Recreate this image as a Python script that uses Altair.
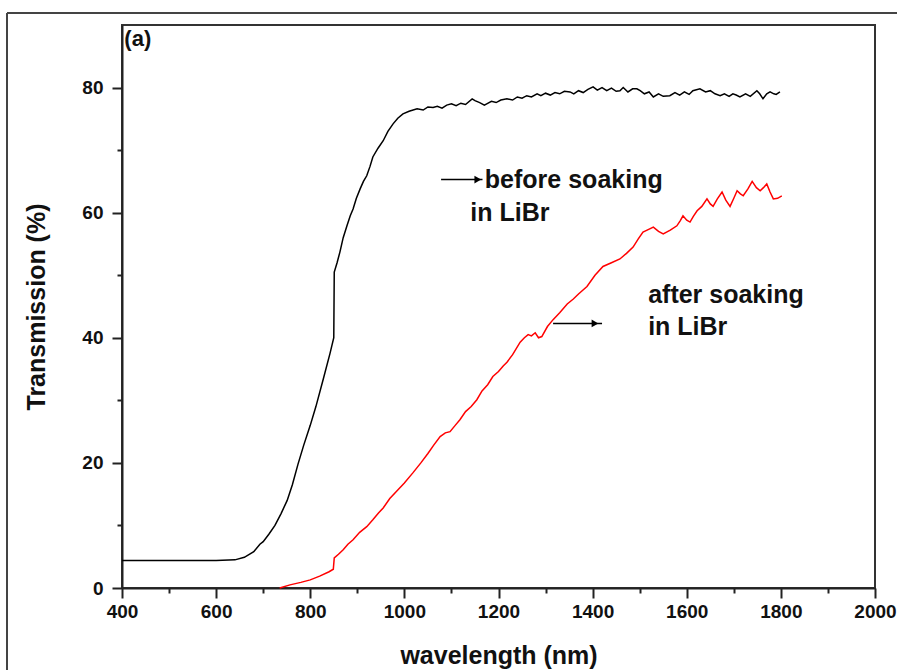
import altair as alt
import pandas as pd

# ---------------- data ----------------
before_x = [400, 500, 600, 640, 660, 680, 693, 700, 712, 725, 738, 751, 762, 774, 786, 800, 812, 828, 842, 850,
            851, 857, 863, 870, 878, 885, 891, 898, 906, 913, 920, 927, 933, 944, 955, 965, 976, 986, 997, 1010,
            1027, 1040, 1050, 1061, 1070, 1080, 1090, 1100, 1110, 1120, 1130, 1144, 1150, 1160, 1170, 1175, 1185,
            1195, 1205, 1218, 1230, 1240, 1250, 1260, 1270, 1282, 1290, 1300, 1310, 1320, 1330, 1340, 1352, 1360,
            1370, 1380, 1390, 1401, 1410, 1420, 1430, 1440, 1450, 1458, 1465, 1475, 1485, 1494, 1501, 1510, 1520,
            1529, 1540, 1550, 1564, 1575, 1585, 1595, 1605, 1613, 1628, 1640, 1650, 1660, 1671, 1680, 1690, 1698,
            1705, 1713, 1725, 1735, 1749, 1755, 1762, 1770, 1777, 1785, 1790, 1798]
before_y = [4.4, 4.4, 4.4, 4.5, 4.9, 5.8, 7.0, 7.4, 8.6, 10.0, 11.9, 14.0, 16.5, 19.8, 22.8, 26.0, 29.0, 33.5, 37.5, 40.0,
            50.5, 52.0, 53.7, 56.0, 57.9, 59.5, 60.6, 62.3, 63.8, 65.0, 65.9, 67.4, 68.9, 70.3, 71.5, 73.0, 74.2, 75.1, 75.8, 76.2,
            76.6, 76.4, 76.9, 76.8, 77.0, 76.7, 77.2, 77.4, 77.1, 77.5, 77.3, 78.2, 77.9, 77.6, 77.2, 77.4, 77.8,
            77.6, 78.0, 78.2, 78.0, 78.5, 78.3, 78.7, 78.5, 79.0, 78.7, 79.1, 78.8, 79.2, 79.0, 79.4, 79.3, 79.0,
            79.5, 79.2, 79.7, 80.1, 79.6, 80.0, 79.5, 79.9, 79.4, 79.5, 80.0, 79.3, 79.8, 79.8, 79.5, 79.0, 79.3,
            78.5, 79.0, 78.6, 78.7, 79.2, 78.8, 79.3, 78.9, 79.5, 79.8, 79.3, 79.5, 79.0, 78.7, 79.0, 78.6, 79.0,
            78.8, 78.5, 79.0, 78.6, 79.5, 79.0, 78.2, 79.0, 79.3, 79.0, 78.9, 79.3]

after_x = [735, 757, 780, 800, 820, 840, 849, 851, 860, 870, 880, 891, 905, 920, 933, 945, 955, 969, 985, 1000,
           1018, 1035, 1050, 1062, 1076, 1087, 1097, 1108, 1118, 1130, 1142, 1154, 1165, 1177, 1188, 1200, 1210,
           1218, 1230, 1246, 1255, 1263, 1270, 1278, 1285, 1292, 1304, 1316, 1330, 1346, 1359, 1370, 1388, 1405,
           1422, 1440, 1458, 1472, 1486, 1497, 1507, 1518, 1529, 1540, 1550, 1565, 1579, 1586, 1592, 1600, 1607,
           1614, 1622, 1632, 1643, 1650, 1656, 1665, 1675, 1683, 1692, 1700, 1707, 1714, 1720, 1730, 1739, 1748,
           1756, 1763, 1770, 1777, 1784, 1793, 1802]
after_y = [0.0, 0.5, 0.9, 1.3, 1.9, 2.6, 3.0, 4.8, 5.4, 6.1, 7.0, 7.7, 8.9, 9.8, 10.9, 12.0, 12.8, 14.3, 15.6, 16.8,
           18.4, 20.0, 21.5, 22.8, 24.2, 24.8, 25.0, 26.0, 26.9, 28.2, 29.0, 30.1, 31.5, 32.5, 33.8, 34.6, 35.5,
           36.1, 37.3, 39.3, 40.0, 40.5, 40.3, 40.8, 40.0, 40.2, 41.8, 42.9, 44.0, 45.4, 46.2, 47.0, 48.2, 50.0,
           51.4, 52.0, 52.6, 53.5, 54.5, 55.8, 56.9, 57.3, 57.7, 57.0, 56.6, 57.2, 57.9, 58.7, 59.5, 58.8, 58.5,
           59.4, 60.3, 61.0, 62.2, 61.4, 61.0, 62.2, 63.3, 62.0, 61.0, 62.3, 63.5, 63.0, 62.7, 63.8, 65.0, 64.0,
           63.5, 64.0, 64.6, 63.3, 62.2, 62.3, 62.7]

x_major = [400, 600, 800, 1000, 1200, 1400, 1600, 1800, 2000]
x_minor = [500, 700, 900, 1100, 1300, 1500, 1700, 1900]
y_major = [0, 20, 40, 60, 80]
y_minor = [10, 30, 50, 70]

labels_text = ["before soaking", "in LiBr", "after soaking", "in LiBr", "(a)"]
labels_x = [1171, 1140, 1518, 1518, 405]
labels_y = [65.2, 59.9, 46.8, 41.8, 87.8]
labels_size = [25, 25, 25, 25, 22]

arrow_x = [1078, 1316]
arrow_x2 = [1166, 1420]
arrow_y = [65.3, 42.3]
arrowhead_x = [1156, 1405]

FONT = "Liberation Sans"
INK = "#111111"

df_before = pd.DataFrame({"wl": before_x, "T": before_y})
df_after = pd.DataFrame({"wl": after_x, "T": after_y})
df_lab = pd.DataFrame({"x": labels_x, "y": labels_y, "t": labels_text, "s": labels_size})
df_arr = pd.DataFrame({"x": arrow_x, "x2": arrow_x2, "y": arrow_y, "hx": arrowhead_x})
df_one = pd.DataFrame({"a": [0]})

xscale = alt.Scale(domain=[400, 2000], nice=False, zero=False)
yscale = alt.Scale(domain=[0, 90], nice=False, zero=False)

x_axis_major = alt.Axis(values=x_major, format="d", title="wavelength (nm)", grid=False,
                        labelFlush=False, tickSize=10, labelPadding=4, titlePadding=22)
y_axis_major = alt.Axis(values=y_major, format="d", title="Transmission (%)", grid=False,
                        tickSize=10, labelPadding=9, titlePadding=32)
x_axis_minor = alt.Axis(values=x_minor, labels=False, title=None, domain=False, grid=False,
                        tickSize=5, orient="bottom")
y_axis_minor = alt.Axis(values=y_minor, labels=False, title=None, domain=False, grid=False,
                        tickSize=5, orient="left")

black = alt.Chart(df_before).mark_line(color="#000000", strokeWidth=1.5).encode(
    x=alt.X("wl:Q", scale=xscale, axis=x_axis_major),
    y=alt.Y("T:Q", scale=yscale, axis=y_axis_major),
)
red = alt.Chart(df_after).mark_line(color="#ff0000", strokeWidth=1.5).encode(
    x=alt.X("wl:Q", scale=xscale, axis=x_axis_minor),
    y=alt.Y("T:Q", scale=yscale, axis=y_axis_minor),
)

texts = alt.Chart(df_lab).mark_text(align="left", baseline="middle", font=FONT,
                                    fontWeight="bold", color=INK).encode(
    x=alt.X("x:Q", scale=xscale, axis=None),
    y=alt.Y("y:Q", scale=yscale, axis=None),
    text="t:N",
    size=alt.Size("s:Q", scale=None, legend=None),
)

arrows = alt.Chart(df_arr).mark_rule(color="#000000", strokeWidth=1.5).encode(
    x=alt.X("x:Q", scale=xscale, axis=None),
    x2="x2:Q",
    y=alt.Y("y:Q", scale=yscale, axis=None),
)
heads = alt.Chart(df_arr).mark_point(shape="triangle-right", filled=True, color="#000000",
                                      size=60, opacity=1).encode(
    x=alt.X("hx:Q", scale=xscale, axis=None),
    y=alt.Y("y:Q", scale=yscale, axis=None),
)

# outer picture frame (decoration)
frame_left = alt.Chart(df_one).mark_rule(color="#444444", strokeWidth=2).encode(
    x=alt.value(-115), y=alt.value(-12), y2=alt.value(660))
frame_top = alt.Chart(df_one).mark_rule(color="#444444", strokeWidth=2).encode(
    x=alt.value(-115), x2=alt.value(790), y=alt.value(-12))

chart = alt.layer(black, red, arrows, heads, texts, frame_left, frame_top).resolve_axis(
    x="independent", y="independent"
).properties(
    width=753, height=563,
    autosize=alt.AutoSizeParams(type="none"),
    padding={"left": 122, "top": 25, "right": 22, "bottom": 82},
    background="white",
).configure_view(
    stroke="#333333", strokeWidth=2,
).configure_axis(
    labelFont=FONT, titleFont=FONT, labelFontWeight="bold", titleFontWeight="bold",
    labelFontSize=19, titleFontSize=25, labelColor=INK, titleColor=INK,
    domainColor="#222222", domainWidth=2, tickColor="#222222", tickWidth=2,
)

chart.save("out.html", embed_options={"renderer": "svg", "actions": False})
